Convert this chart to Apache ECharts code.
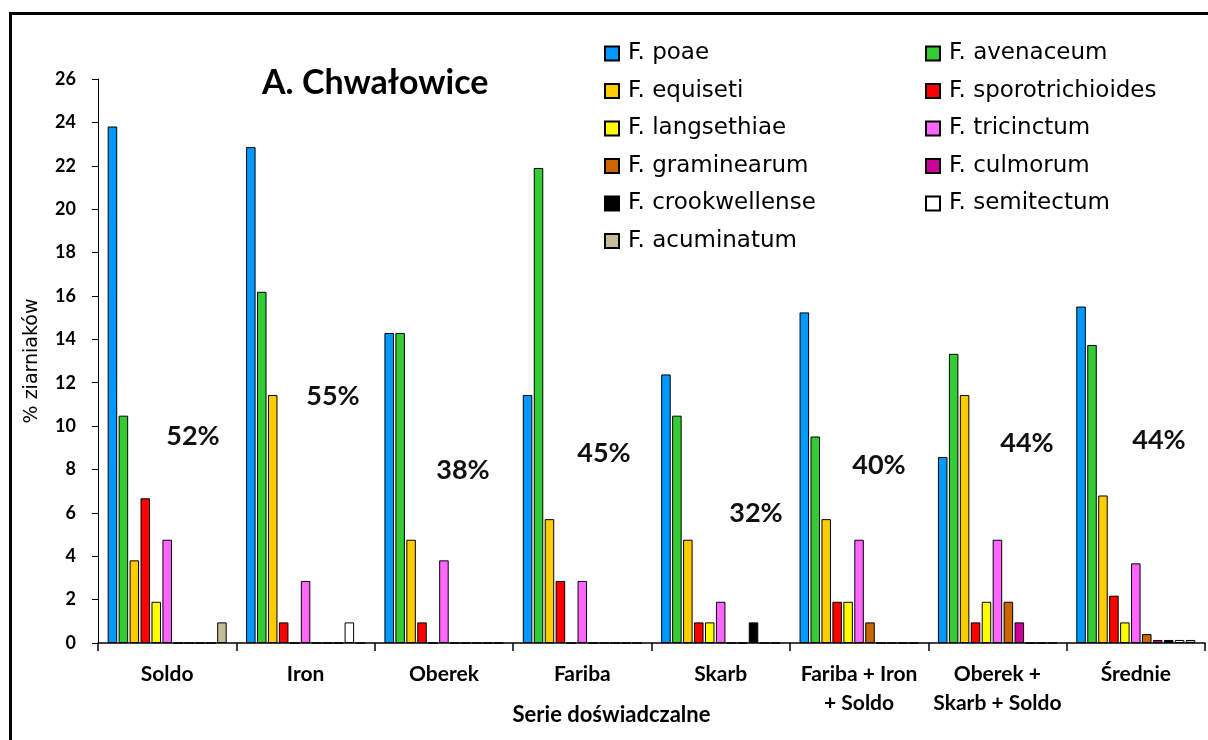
<!DOCTYPE html>
<html>
<head>
<meta charset="utf-8">
<title>A. Chwałowice</title>
<script src="https://cdn.jsdelivr.net/npm/echarts@6/dist/echarts.min.js"></script>
<style>
  html, body { margin: 0; padding: 0; background: #fff; }
  #chart { width: 1208px; height: 740px; }
</style>
</head>
<body>
<div id="chart"></div>
<script>
// Experimental series (x categories)
const categories = ['Soldo', 'Iron', 'Oberek', 'Fariba', 'Skarb',
  'Fariba + Iron\n+ Soldo', 'Oberek +\nSkarb + Soldo', 'Średnie'];

// % of kernels infected by each Fusarium species
const poae             = [23.81, 22.86, 14.29, 11.43, 12.38, 15.24, 8.57, 15.51];
const avenaceum        = [10.48, 16.19, 14.29, 21.90, 10.48, 9.52, 13.33, 13.74];
const equiseti         = [3.81, 11.43, 4.76, 5.71, 4.76, 5.71, 11.43, 6.80];
const sporotrichioides = [6.67, 0.95, 0.95, 2.86, 0.95, 1.90, 0.95, 2.18];
const langsethiae      = [1.90, 0, 0, 0, 0.95, 1.90, 1.90, 0.95];
const tricinctum       = [4.76, 2.86, 3.81, 2.86, 1.90, 4.76, 4.76, 3.67];
const graminearum      = [0, 0, 0, 0, 0, 0.95, 1.90, 0.41];
const culmorum         = [0, 0, 0, 0, 0, 0, 0.95, 0.14];
const crookwellense    = [0, 0, 0, 0, 0.95, 0, 0, 0.14];
const semitectum       = [0, 0.95, 0, 0, 0, 0, 0, 0.14];
const acuminatum       = [0.95, 0, 0, 0, 0, 0, 0, 0.14];

// Total share of infected kernels per series
const totalShare = ['52%', '55%', '38%', '45%', '32%', '40%', '44%', '44%'];

const yTicks = { min: 0, max: 26, interval: 2 };

const speciesDefs = [
  ['F. poae', poae, '#0099FF'],
  ['F. avenaceum', avenaceum, '#33CC33'],
  ['F. equiseti', equiseti, '#FFCC00'],
  ['F. sporotrichioides', sporotrichioides, '#FF0000'],
  ['F. langsethiae', langsethiae, '#FFFF00'],
  ['F. tricinctum', tricinctum, '#FF66FF'],
  ['F. graminearum', graminearum, '#CC6600'],
  ['F. culmorum', culmorum, '#CC0099'],
  ['F. crookwellense', crookwellense, '#000000'],
  ['F. semitectum', semitectum, '#FFFFFF'],
  ['F. acuminatum', acuminatum, '#C4BD97']
];

const FONT = 'Lato, "Open Sans", sans-serif';
const FONT_WIDE = '"DejaVu Sans", sans-serif';

const series = speciesDefs.map(([name, data, color]) => ({
  name: name,
  type: 'bar',
  data: data,
  barGap: '15%',
  barCategoryGap: '14%',
  itemStyle: { color: color, borderColor: '#000', borderWidth: 1 },
  emphasis: { disabled: true }
}));

// Pixel centres of the share annotations
const sharePos = [[193, 436], [333, 396], [463, 470], [604, 453],
                  [756, 513], [879, 465], [1027, 443], [1159, 440]];

const legendCommon = {
  orient: 'vertical',
  icon: 'rect',
  padding: 0,
  itemWidth: 14,
  itemHeight: 14,
  itemGap: 14.5,
  selectedMode: false,
  textStyle: { fontFamily: FONT_WIDE, fontSize: 23, color: '#000', lineHeight: 22, padding: [0, 0, 0, 4] }
};

const option = {
  backgroundColor: '#fff',
  animation: false,
  title: {
    text: 'A. Chwałowice',
    left: 262,
    top: 66,
    padding: 0,
    textStyle: { fontFamily: FONT, fontSize: 34, fontWeight: 'bold', color: '#000' }
  },
  legend: [
    Object.assign({}, legendCommon, {
      left: 604, top: 42,
      data: ['F. poae', 'F. equiseti', 'F. langsethiae', 'F. graminearum', 'F. crookwellense', 'F. acuminatum']
    }),
    Object.assign({}, legendCommon, {
      left: 925, top: 42,
      data: ['F. avenaceum', 'F. sporotrichioides', 'F. tricinctum', 'F. culmorum', 'F. semitectum']
    })
  ],
  grid: { left: 98, right: 3, top: 79, bottom: 97, containLabel: false, outerBoundsMode: 'none' },
  xAxis: {
    type: 'category',
    data: categories,
    name: 'Serie doświadczalne',
    nameLocation: 'middle',
    nameGap: 61,
    nameMoveOverlap: false,
    nameTextStyle: { fontFamily: FONT, fontSize: 22, fontWeight: 'bold', color: '#000', padding: [0, 80, 0, 0] },
    axisLine: { lineStyle: { color: '#000', width: 1.5 } },
    axisTick: { show: true, length: 8, lineStyle: { color: '#000', width: 1.5 } },
    axisLabel: { fontFamily: FONT, fontSize: 21, fontWeight: 'bold', color: '#000', margin: 17, lineHeight: 29, interval: 0 }
  },
  yAxis: {
    type: 'value',
    min: yTicks.min,
    max: yTicks.max,
    interval: yTicks.interval,
    name: '% ziarniaków',
    nameLocation: 'middle',
    nameGap: 56,
    nameTextStyle: { fontFamily: FONT_WIDE, fontSize: 19, color: '#000' },
    axisLine: { show: true, lineStyle: { color: '#000', width: 1 } },
    axisTick: { show: true, length: 6, lineStyle: { color: '#000' } },
    splitLine: { show: false },
    axisLabel: { fontFamily: FONT, fontSize: 18, fontWeight: 'bold', color: '#000', margin: 22 }
  },
  series: series,
  graphic: [
    {
      type: 'rect',
      shape: { x: 10.5, y: 13.5, width: 1300, height: 800 },
      style: { fill: null, stroke: '#000', lineWidth: 3 },
      silent: true,
      z: -1
    }
  ].concat(totalShare.map((t, i) => ({
    type: 'text',
    x: sharePos[i][0],
    y: sharePos[i][1],
    style: {
      text: t,
      fontFamily: FONT,
      fontSize: 27,
      fontWeight: 'bold',
      fill: '#111',
      align: 'center',
      verticalAlign: 'middle'
    },
    silent: true
  })))
};

const chart = echarts.init(document.getElementById('chart'), null, { renderer: 'canvas' });
chart.setOption(option);
</script>
</body>
</html>
